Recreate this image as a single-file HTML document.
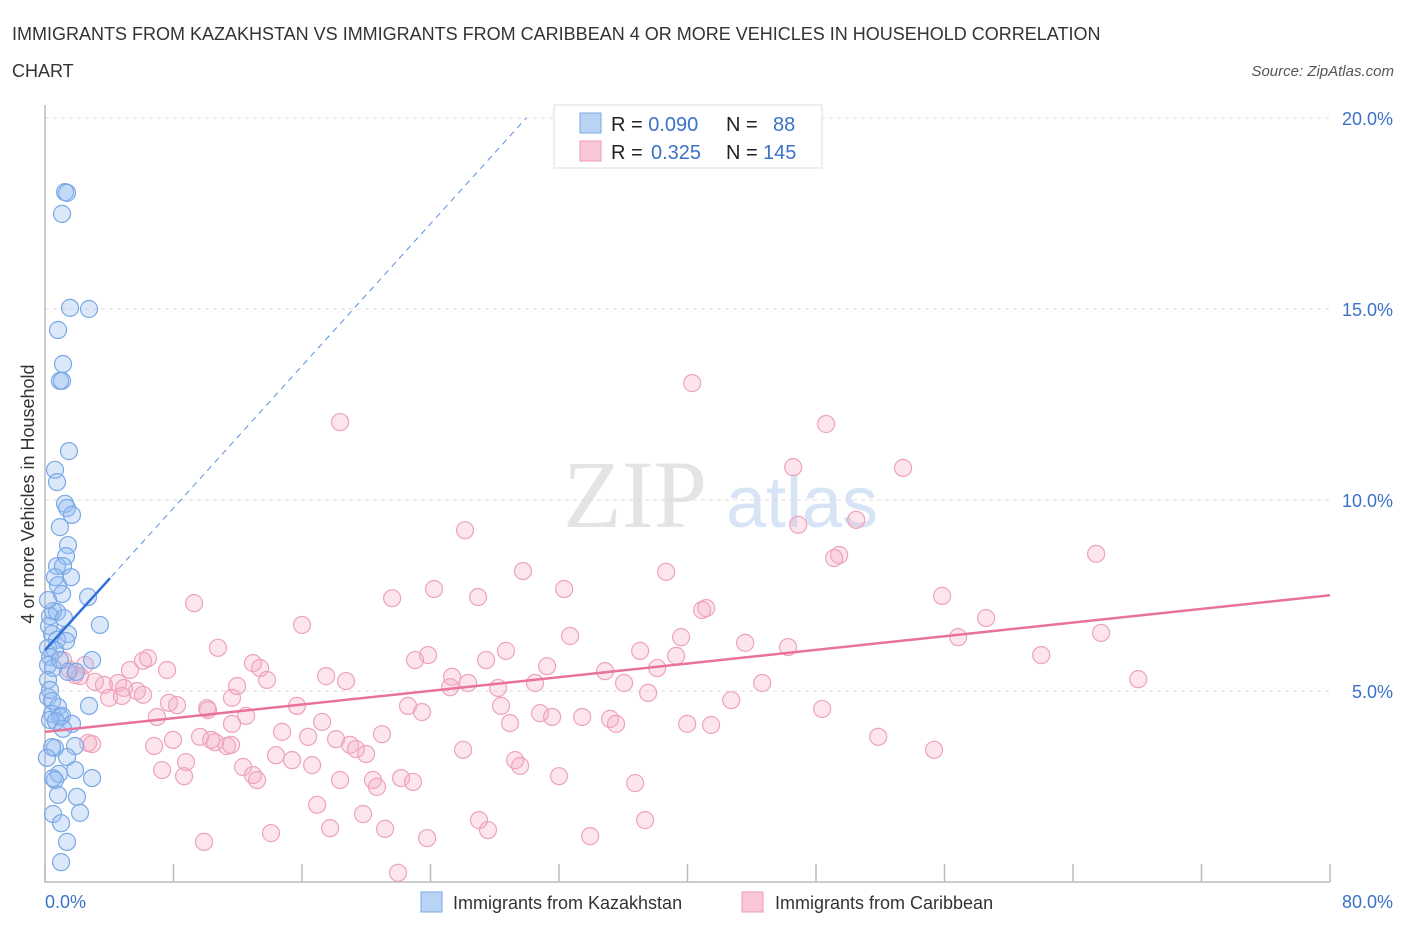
<!DOCTYPE html>
<html><head><meta charset="utf-8"><style>
body{margin:0;background:#fff;font-family:"Liberation Sans",sans-serif}
svg{display:block}
</style></head><body>
<svg id="c" width="1406" height="930" xmlns="http://www.w3.org/2000/svg">
<text x="12" y="40" font-size="18" fill="#333">IMMIGRANTS FROM KAZAKHSTAN VS IMMIGRANTS FROM CARIBBEAN 4 OR MORE VEHICLES IN HOUSEHOLD CORRELATION</text>
<text x="12" y="77" font-size="18" fill="#333">CHART</text>
<text x="1394" y="76" font-size="15" fill="#555" font-style="italic" text-anchor="end">Source: ZipAtlas.com</text>
<text x="635" y="527" font-size="96" fill="#e4e4e4" font-family="Liberation Serif,serif" text-anchor="middle">ZIP</text>
<text x="802" y="527" font-size="72" fill="#d6e4f5" text-anchor="middle">atlas</text>
<text transform="translate(34,494) rotate(-90)" font-size="18" fill="#333" text-anchor="middle">4 or more Vehicles in Household</text>
<g id="grid"></g><g id="marks"></g>
<rect x="554" y="105" width="268" height="63" fill="#fff" stroke="#ddd"/>
<rect x="580" y="113" width="21" height="20" fill="#b9d3f5" stroke="#7aa8e6"/>
<rect x="580" y="141" width="21" height="20" fill="#f9c7d5" stroke="#ee9ab3"/>
<text x="611" y="131" font-size="20" fill="#222">R = <tspan fill="#3a72c9">0.090</tspan><tspan x="726">N = </tspan><tspan x="773" fill="#3a72c9">88</tspan></text>
<text x="611" y="159" font-size="20" fill="#222">R = <tspan x="651" fill="#3a72c9">0.325</tspan><tspan x="726">N = </tspan><tspan x="763" fill="#3a72c9">145</tspan></text>
<text x="45" y="908" font-size="18" fill="#3a72c9">0.0%</text>
<text x="1393" y="908" font-size="18" fill="#3a72c9" text-anchor="end">80.0%</text>
<rect x="421" y="892" width="21" height="20" fill="#b9d3f5" stroke="#7aa8e6"/>
<text x="453" y="909" font-size="18" fill="#333">Immigrants from Kazakhstan</text>
<rect x="742" y="892" width="21" height="20" fill="#f9c7d5" stroke="#ee9ab3"/>
<text x="775" y="909" font-size="18" fill="#333">Immigrants from Caribbean</text>
</svg>
<script>
const yTicks=[5,10,15,20];
const yTickLabels=["5.0%","10.0%","15.0%","20.0%"];
const xTicks=[0,8,16,24,32,40,48,56,64,72,80];
const kazX=[1.25,1.37,1.06,1.56,2.74,0.81,1.12,0.93,1.06,1.49,0.62,0.75,1.25,1.37,1.68,0.93,1.43,1.31,0.75,1.12,0.62,1.62,0.81,1.06,2.68,0.5,0.75,0.31,1.18,0.25,3.42,0.44,1.43,0.75,1.31,0.19,0.62,0.31,2.93,0.19,0.5,1.43,1.93,0.19,0.44,2.74,0.81,0.44,0.93,1.06,0.31,0.68,1.68,1.12,0.62,0.44,1.87,0.12,1.37,1.87,0.5,0.87,2.93,0.62,0.81,1.99,0.5,2.18,1.0,1.37,1.0,0.19,0.19,0.31,0.93];
const kazY=[18.06,18.04,17.49,15.03,15.0,14.45,13.56,13.12,13.12,11.28,10.79,10.47,9.9,9.79,9.61,9.29,8.82,8.53,8.27,8.27,7.98,7.98,7.77,7.54,7.46,7.09,7.07,6.96,6.91,6.7,6.73,6.49,6.49,6.34,6.31,6.13,6.07,5.89,5.81,5.68,5.6,5.5,5.5,4.84,4.74,4.61,4.58,4.4,4.32,4.35,4.24,4.21,4.14,4.01,3.51,3.53,3.56,3.25,3.27,2.93,2.72,2.83,2.72,2.67,2.28,2.23,1.78,1.81,1.54,1.05,0.52,7.38,5.29,5.03,5.81];
const carX=[18.37,40.29,48.63,53.42,46.58,46.89,50.5,26.15,49.44,49.13,65.44,29.76,38.67,32.32,24.22,26.96,21.61,9.28,41.16,40.91,55.85,58.59,16.0,32.69,39.6,56.85,65.75,10.77,23.85,23.04,28.7,37.05,43.59,46.26,62.02,68.06,6.1,6.41,5.29,12.95,13.39,7.6,27.46,31.26,34.87,38.11,39.29,17.5,18.74,25.34,25.22,26.34,28.21,30.51,36.05,37.55,44.65,11.96,11.64,13.82,2.49,1.56,1.87,2.18,3.11,3.67,4.55,4.92,5.73,6.1,3.99,4.79,7.72,8.22,10.09,10.15,15.69,22.6,23.47,28.39,30.82,31.57,33.44,35.18,35.55,42.72,48.38,6.97,12.52,17.25,20.98,11.64,14.76,16.38,18.12,18.99,19.36,9.65,10.34,11.33,11.58,2.93,6.79,7.97,10.59,28.95,39.98,41.47,51.87,55.35,26.03,14.38,15.38,8.78,7.29,12.33,12.95,16.63,19.99,29.27,29.58,18.37,20.42,20.67,22.17,22.91,32.0,36.74,13.2,8.66,16.94,19.8,27.02,23.79,14.07,17.75,21.17,27.58,37.36,33.94,9.9,21.98,2.68,1.12];
const carY=[12.04,13.06,11.99,10.84,10.86,9.35,9.48,9.21,8.56,8.48,8.59,8.14,8.12,7.67,7.67,7.46,7.43,7.3,7.17,7.12,7.49,6.91,6.73,6.44,6.41,6.41,6.52,6.13,5.94,5.81,6.05,6.05,6.26,6.15,5.94,5.31,5.79,5.86,5.55,5.73,5.6,5.55,5.81,5.65,5.52,5.6,5.92,5.39,5.26,5.37,5.1,5.21,5.08,5.21,5.21,4.95,5.21,5.13,4.82,5.29,5.68,5.55,5.42,5.39,5.24,5.16,5.21,5.08,5.0,4.9,4.82,4.87,4.69,4.63,4.55,4.5,4.61,4.61,4.45,4.61,4.42,4.32,4.32,4.27,4.14,4.76,4.53,4.32,4.35,4.19,3.87,4.14,3.93,3.8,3.74,3.59,3.48,3.8,3.72,3.56,3.59,3.61,3.56,3.72,3.66,4.16,4.14,4.11,3.8,3.46,3.46,3.32,3.19,3.14,2.93,3.01,2.8,3.06,3.35,3.19,3.04,2.67,2.67,2.49,2.72,2.62,2.77,2.59,2.67,2.77,2.02,1.78,1.62,1.15,1.28,1.41,1.39,1.36,1.62,1.2,1.05,0.24,3.64,5.81];
const kazTrend=[6.07,0.465];   // intercept, slope
const kazSolidEnd=[4.05];
const carTrend=[3.93,0.0447];
const NS="http://www.w3.org/2000/svg";
const X=v=>45+v*(1285/80), Y=v=>882-v*38.2;
function mk(t,a,p){const e=document.createElementNS(NS,t);for(const k in a)e.setAttribute(k,a[k]);p.appendChild(e);return e;}
const grid=document.getElementById('grid'),marks=document.getElementById('marks');
yTicks.forEach((v,i)=>{
  const l=mk('line',{x1:45,x2:1330,y1:Y(v),y2:Y(v),stroke:'#ddd','stroke-dasharray':'4,4'},grid);
  
  
  const t=mk('text',{x:1393,y:Y(v)+7,'font-size':18,fill:'#3a72c9','text-anchor':'end'},grid);
  t.textContent=yTickLabels[i];
  
  
});
const ax=mk('path',{d:`M45 105V882H1330`,fill:'none',stroke:'#bbb','stroke-width':1.5},grid);


xTicks.forEach(v=>{
  const l=mk('line',{x1:X(v),x2:X(v),y1:864,y2:882,stroke:'#bbb','stroke-width':1.5},grid);
  
  
});
carX.forEach((v,i)=>{
  const c=mk('circle',{cx:X(v),cy:Y(carY[i]),r:8.5,fill:'rgba(246,170,195,0.3)',stroke:'#eea3bb','stroke-width':1.2},marks);
  
  
});
kazX.forEach((v,i)=>{
  const c=mk('circle',{cx:X(v),cy:Y(kazY[i]),r:8.5,fill:'rgba(150,190,240,0.35)',stroke:'#7aa8e6','stroke-width':1.2},marks);
  
  
});
const xd=(20-kazTrend[0])/kazTrend[1];
const d1=mk('line',{x1:X(0),y1:Y(kazTrend[0]),x2:X(xd),y2:Y(20),stroke:'#5b8fdc','stroke-width':1,'stroke-dasharray':'6,5'},marks);


const e=kazSolidEnd[0];
const d2=mk('line',{x1:X(0),y1:Y(kazTrend[0]),x2:X(e),y2:Y(kazTrend[0]+kazTrend[1]*e),stroke:'#2e6fd8','stroke-width':2.5},marks);


const d3=mk('line',{x1:X(0),y1:Y(carTrend[0]),x2:X(80),y2:Y(carTrend[0]+carTrend[1]*80),stroke:'#e8729b','stroke-width':2.5},marks);


</script>
</body></html>
